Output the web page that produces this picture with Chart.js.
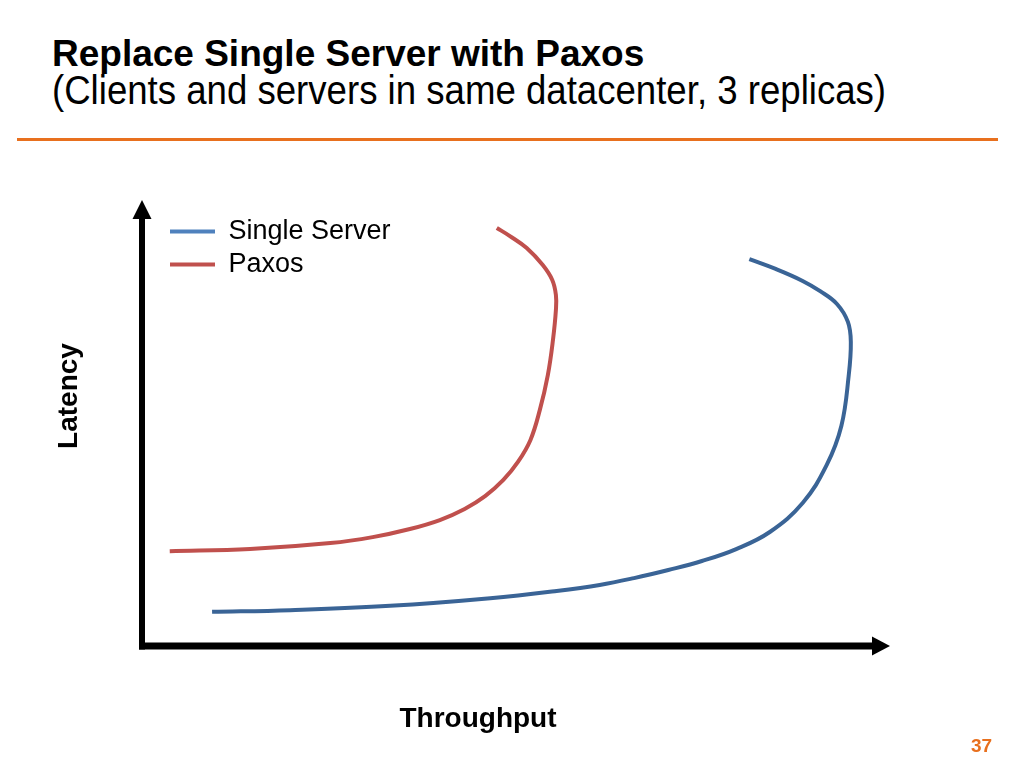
<!DOCTYPE html>
<html>
<head>
<meta charset="utf-8">
<title>Replace Single Server with Paxos</title>
<script src="https://cdn.jsdelivr.net/npm/chart.js@4"></script>
<style>
    html, body { margin: 0; padding: 0; background: #fff; }
    body { width: 1024px; height: 768px; position: relative; overflow: hidden; font-family: "Liberation Sans", Arial, sans-serif; }
    #chart { position: absolute; left: 0; top: 0; }
    .slide-title { position: absolute; left: 52px; top: 34px; font-size: 37px; font-weight: bold; line-height: 40px; color: #000; white-space: nowrap; }
    .slide-subtitle { position: absolute; left: 52px; top: 70px; font-size: 40px; line-height: 40px; color: #000; white-space: nowrap; transform: scaleX(0.915); transform-origin: 0 0; }
    .rule { position: absolute; left: 17px; top: 138px; width: 981px; height: 3px; background: #E8701E; }
    .axis-label { position: absolute; font-size: 28px; font-weight: bold; line-height: 28px; height: 28px; color: #000; white-space: nowrap; text-align: center; width: 200px; }
    .axis-x { left: 378px; top: 704px; }
    .axis-y { left: -32px; top: 382px; transform: rotate(-90deg); transform-origin: 100px 14px; }
    .page-num { position: absolute; left: 971px; top: 735px; font-size: 19px; font-weight: bold; color: #E8701E; }
</style>
</head>
<body>
<div class="slide-title">Replace Single Server with Paxos</div>
<div class="slide-subtitle">(Clients and servers in same datacenter, 3 replicas)</div>
<div class="rule"></div>
<canvas id="chart" width="1024" height="768"></canvas>
<div class="axis-label axis-y">Latency</div>
<div class="axis-label axis-x">Throughput</div>
<div class="page-num">37</div>
<script>
// curves, arbitrary units (0..100 on both axes)
const seriesNames = ['Single Server', 'Paxos'];

const singleThroughput = [9.6, 20.3, 34.0, 47.7, 56.8, 62.7, 67.4, 72.1, 76.7, 81.4, 86.0, 90.5, 93.8, 95.8, 96.8, 97.1, 96.7, 95.2, 92.9, 90.5, 86.8, 83.2];
const singleLatency    = [8.0, 8.4, 9.4, 11.2, 12.9, 14.3, 15.9, 17.8, 19.9, 22.7, 26.7, 33.5, 42.4, 51.5, 63.2, 71.2, 75.9, 80.1, 83.1, 85.5, 88.3, 90.6];

const paxosThroughput = [3.8, 14.8, 25.8, 31.6, 36.7, 40.8, 44.2, 47.0, 49.5, 51.5, 53.2, 54.5, 55.6, 56.3, 56.7, 56.7, 56.2, 54.9, 52.7, 50.4, 48.6];
const paxosLatency    = [22.2, 22.7, 24.1, 25.5, 27.4, 29.5, 32.1, 35.1, 38.9, 43.1, 48.2, 55.3, 63.5, 71.7, 78.7, 82.2, 85.7, 89.2, 93.2, 96.0, 97.9];

const lineColors   = ['#3A6496', '#C0504D'];
const legendColors = ['#4F81BD', '#C0504D'];

function toPoints(xs, ys) {
    return xs.map((x, i) => ({ x: x, y: ys[i] }));
}

// black axes with arrow heads, like the slide
const arrowAxes = {
    id: 'arrowAxes',
    afterDatasetsDraw(chart) {
        const ctx = chart.ctx;
        const xs = chart.scales.x, ys = chart.scales.y;
        const x0 = xs.getPixelForValue(0), y0 = ys.getPixelForValue(0);
        const xEnd = xs.getPixelForValue(100), yEnd = ys.getPixelForValue(100);
        ctx.save();
        ctx.fillStyle = '#000';
        ctx.strokeStyle = '#000';
        ctx.lineCap = 'butt';

        ctx.lineWidth = 6;
        ctx.beginPath();
        ctx.moveTo(x0, y0 + 3.5);
        ctx.lineTo(x0, yEnd);
        ctx.stroke();

        ctx.lineWidth = 7;
        ctx.beginPath();
        ctx.moveTo(x0 - 3, y0);
        ctx.lineTo(xEnd, y0);
        ctx.stroke();

        ctx.beginPath();
        ctx.moveTo(x0, yEnd - 19);
        ctx.lineTo(x0 - 9.5, yEnd);
        ctx.lineTo(x0 + 9.5, yEnd);
        ctx.closePath();
        ctx.fill();

        ctx.beginPath();
        ctx.moveTo(xEnd + 18, y0);
        ctx.lineTo(xEnd, y0 - 9.5);
        ctx.lineTo(xEnd, y0 + 9.5);
        ctx.closePath();
        ctx.fill();
        ctx.restore();
    }
};

// put the legend where it sits on the slide (vertical legends reset top to 0)
const legendNudge = {
    id: 'legendNudge',
    afterLayout(chart) {
        const legend = chart.legend;
        if (!legend) return;
        legend.left = chart.chartArea.left + 22;
        legend.top = chart.chartArea.top - 7;
    }
};

const ctx = document.getElementById('chart').getContext('2d');
new Chart(ctx, {
    type: 'scatter',
    data: {
        datasets: [
            {
                label: seriesNames[0],
                data: toPoints(singleThroughput, singleLatency),
                borderColor: lineColors[0],
                backgroundColor: lineColors[0],
                borderWidth: 4,
                showLine: true,
                tension: 0.4,
                pointRadius: 0
            },
            {
                label: seriesNames[1],
                data: toPoints(paxosThroughput, paxosLatency),
                borderColor: lineColors[1],
                backgroundColor: lineColors[1],
                borderWidth: 4,
                showLine: true,
                tension: 0.4,
                pointRadius: 0
            }
        ]
    },
    options: {
        responsive: false,
        animation: false,
        devicePixelRatio: 1,
        layout: { padding: { left: 142, right: 152, top: 219, bottom: 122 } },
        scales: {
            x: { type: 'linear', min: 0, max: 100, display: false },
            y: { type: 'linear', min: 0, max: 100, display: false }
        },
        plugins: {
            tooltip: { enabled: false },
            legend: {
                position: 'chartArea',
                align: 'start',
                labels: {
                    boxWidth: 45,
                    boxHeight: 4,
                    padding: 6,
                    color: '#000',
                    font: { family: '"Liberation Sans", Arial, sans-serif', size: 27 },
                    generateLabels(chart) {
                        return chart.data.datasets.map((ds, i) => ({
                            text: ds.label,
                            fillStyle: legendColors[i],
                            strokeStyle: legendColors[i],
                            lineWidth: 0,
                            fontColor: '#000',
                            datasetIndex: i
                        }));
                    }
                }
            }
        }
    },
    plugins: [arrowAxes, legendNudge]
});
</script>
</body>
</html>
